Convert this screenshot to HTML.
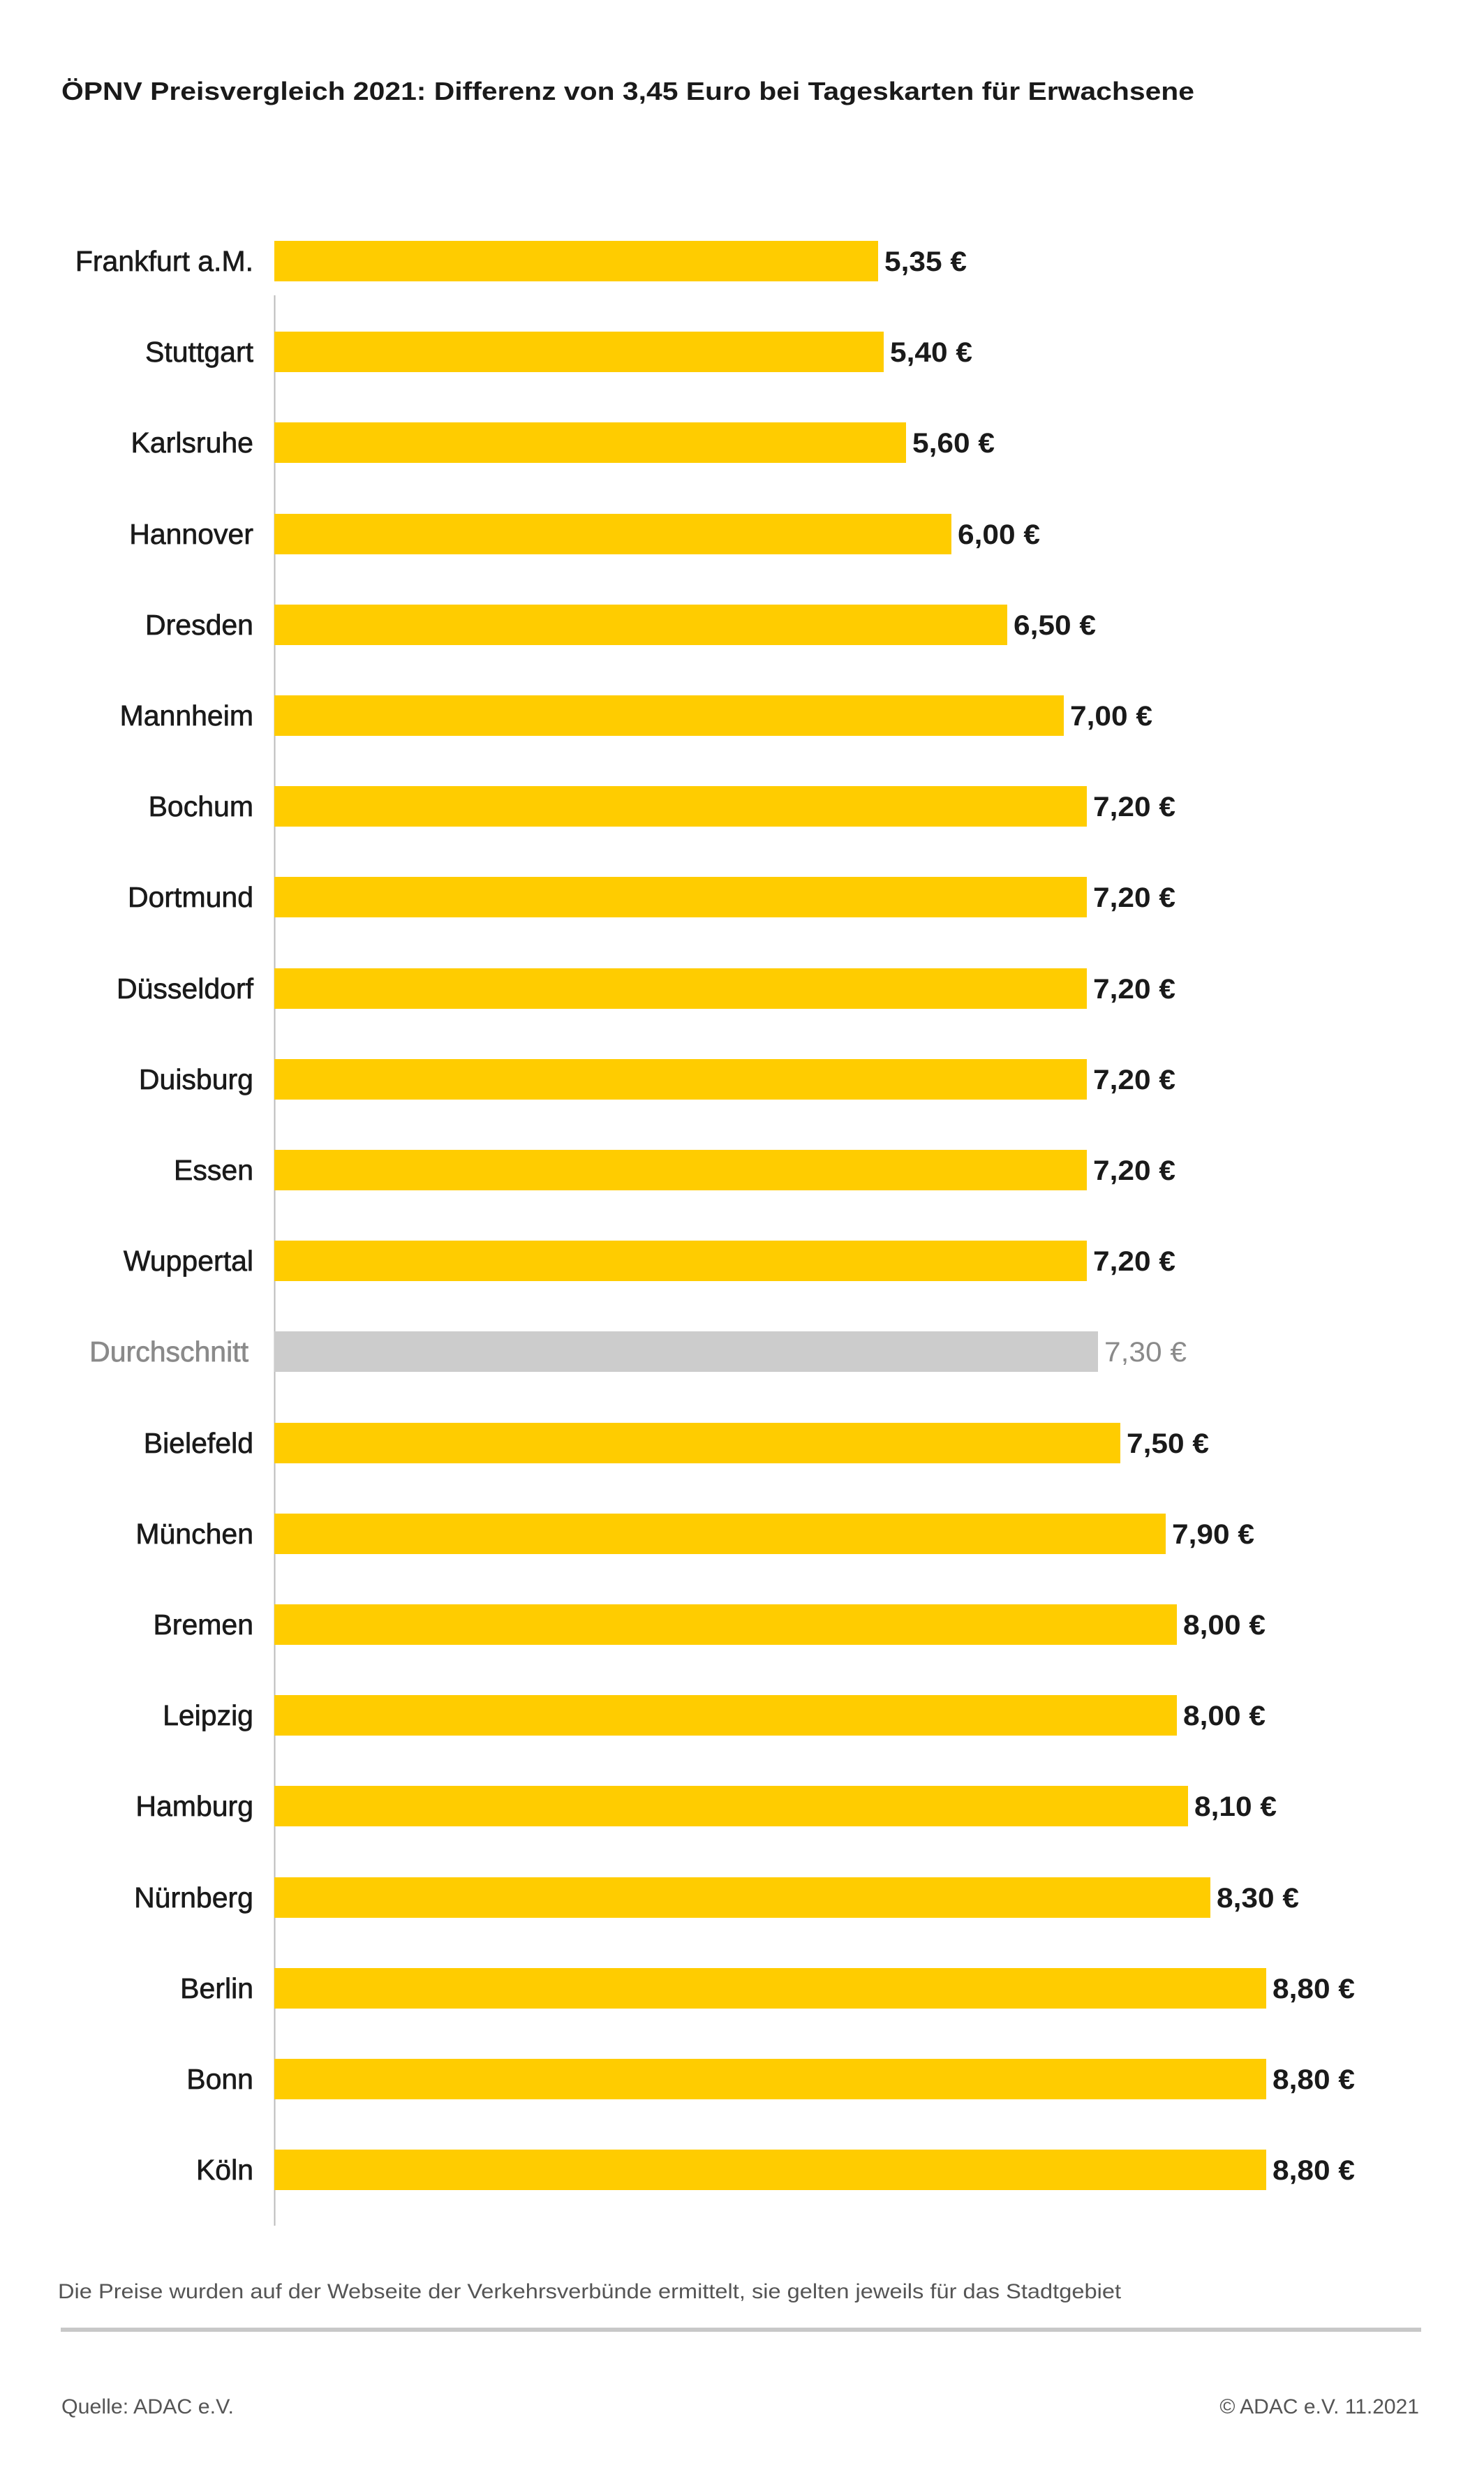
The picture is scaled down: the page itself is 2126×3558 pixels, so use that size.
<!DOCTYPE html>
<html><head><meta charset="utf-8"><style>
html,body{margin:0;padding:0;background:#fff}
svg{display:block}
text{font-family:"Liberation Sans",sans-serif}
.l{font-size:41px;fill:#1a1a1a;text-anchor:end;stroke:#1a1a1a;stroke-width:0.7px}
.v{font-size:40px;font-weight:bold;fill:#1a1a1a}
</style></head><body>
<svg width="2126" height="3558" viewBox="0 0 2126 3558" xmlns="http://www.w3.org/2000/svg">
<text x="88" y="143" font-size="36" font-weight="bold" fill="#1a1a1a" textLength="1623" lengthAdjust="spacingAndGlyphs">ÖPNV Preisvergleich 2021: Differenz von 3,45 Euro bei Tageskarten für Erwachsene</text>
<line x1="393.5" y1="423" x2="393.5" y2="3188" stroke="#bbb" stroke-width="2"/>
<g>
<rect x="393" y="345" width="865" height="58" fill="#FFCC00"/><text class="l" x="363" y="388">Frankfurt a.M.</text><text class="v" x="1267" y="388" textLength="118" lengthAdjust="spacingAndGlyphs">5,35 €</text>
<rect x="393" y="475" width="873" height="58" fill="#FFCC00"/><text class="l" x="363" y="518">Stuttgart</text><text class="v" x="1275" y="518" textLength="118" lengthAdjust="spacingAndGlyphs">5,40 €</text>
<rect x="393" y="605" width="905" height="58" fill="#FFCC00"/><text class="l" x="363" y="648">Karlsruhe</text><text class="v" x="1307" y="648" textLength="118" lengthAdjust="spacingAndGlyphs">5,60 €</text>
<rect x="393" y="736" width="970" height="58" fill="#FFCC00"/><text class="l" x="363" y="779">Hannover</text><text class="v" x="1372" y="779" textLength="118" lengthAdjust="spacingAndGlyphs">6,00 €</text>
<rect x="393" y="866" width="1050" height="58" fill="#FFCC00"/><text class="l" x="363" y="909">Dresden</text><text class="v" x="1452" y="909" textLength="118" lengthAdjust="spacingAndGlyphs">6,50 €</text>
<rect x="393" y="996" width="1131" height="58" fill="#FFCC00"/><text class="l" x="363" y="1039">Mannheim</text><text class="v" x="1533" y="1039" textLength="118" lengthAdjust="spacingAndGlyphs">7,00 €</text>
<rect x="393" y="1126" width="1164" height="58" fill="#FFCC00"/><text class="l" x="363" y="1169">Bochum</text><text class="v" x="1566" y="1169" textLength="118" lengthAdjust="spacingAndGlyphs">7,20 €</text>
<rect x="393" y="1256" width="1164" height="58" fill="#FFCC00"/><text class="l" x="363" y="1299">Dortmund</text><text class="v" x="1566" y="1299" textLength="118" lengthAdjust="spacingAndGlyphs">7,20 €</text>
<rect x="393" y="1387" width="1164" height="58" fill="#FFCC00"/><text class="l" x="363" y="1430">Düsseldorf</text><text class="v" x="1566" y="1430" textLength="118" lengthAdjust="spacingAndGlyphs">7,20 €</text>
<rect x="393" y="1517" width="1164" height="58" fill="#FFCC00"/><text class="l" x="363" y="1560">Duisburg</text><text class="v" x="1566" y="1560" textLength="118" lengthAdjust="spacingAndGlyphs">7,20 €</text>
<rect x="393" y="1647" width="1164" height="58" fill="#FFCC00"/><text class="l" x="363" y="1690">Essen</text><text class="v" x="1566" y="1690" textLength="118" lengthAdjust="spacingAndGlyphs">7,20 €</text>
<rect x="393" y="1777" width="1164" height="58" fill="#FFCC00"/><text class="l" x="363" y="1820">Wuppertal</text><text class="v" x="1566" y="1820" textLength="118" lengthAdjust="spacingAndGlyphs">7,20 €</text>
<rect x="393" y="1907" width="1180" height="58" fill="#CCCCCC"/><text class="l" x="356" y="1950" style="fill:#8a8a8a;stroke:#8a8a8a">Durchschnitt</text><text class="v" x="1582" y="1950" style="fill:#8a8a8a;font-weight:normal" textLength="118" lengthAdjust="spacingAndGlyphs">7,30 €</text>
<rect x="393" y="2038" width="1212" height="58" fill="#FFCC00"/><text class="l" x="363" y="2081">Bielefeld</text><text class="v" x="1614" y="2081" textLength="118" lengthAdjust="spacingAndGlyphs">7,50 €</text>
<rect x="393" y="2168" width="1277" height="58" fill="#FFCC00"/><text class="l" x="363" y="2211">München</text><text class="v" x="1679" y="2211" textLength="118" lengthAdjust="spacingAndGlyphs">7,90 €</text>
<rect x="393" y="2298" width="1293" height="58" fill="#FFCC00"/><text class="l" x="363" y="2341">Bremen</text><text class="v" x="1695" y="2341" textLength="118" lengthAdjust="spacingAndGlyphs">8,00 €</text>
<rect x="393" y="2428" width="1293" height="58" fill="#FFCC00"/><text class="l" x="363" y="2471">Leipzig</text><text class="v" x="1695" y="2471" textLength="118" lengthAdjust="spacingAndGlyphs">8,00 €</text>
<rect x="393" y="2558" width="1309" height="58" fill="#FFCC00"/><text class="l" x="363" y="2601">Hamburg</text><text class="v" x="1711" y="2601" textLength="118" lengthAdjust="spacingAndGlyphs">8,10 €</text>
<rect x="393" y="2689" width="1341" height="58" fill="#FFCC00"/><text class="l" x="363" y="2732">Nürnberg</text><text class="v" x="1743" y="2732" textLength="118" lengthAdjust="spacingAndGlyphs">8,30 €</text>
<rect x="393" y="2819" width="1421" height="58" fill="#FFCC00"/><text class="l" x="363" y="2862">Berlin</text><text class="v" x="1823" y="2862" textLength="118" lengthAdjust="spacingAndGlyphs">8,80 €</text>
<rect x="393" y="2949" width="1421" height="58" fill="#FFCC00"/><text class="l" x="363" y="2992">Bonn</text><text class="v" x="1823" y="2992" textLength="118" lengthAdjust="spacingAndGlyphs">8,80 €</text>
<rect x="393" y="3079" width="1421" height="58" fill="#FFCC00"/><text class="l" x="363" y="3122">Köln</text><text class="v" x="1823" y="3122" textLength="118" lengthAdjust="spacingAndGlyphs">8,80 €</text>
</g>
<text x="83" y="3292" font-size="30" fill="#555" textLength="1523" lengthAdjust="spacingAndGlyphs">Die Preise wurden auf der Webseite der Verkehrsverbünde ermittelt, sie gelten jeweils für das Stadtgebiet</text>
<rect x="87" y="3334" width="1949" height="6" fill="#c8c8c8"/>
<text x="88" y="3457" font-size="30" fill="#555" textLength="247" lengthAdjust="spacingAndGlyphs">Quelle: ADAC e.V.</text>
<text x="2033" y="3457" font-size="30" fill="#555" text-anchor="end">© ADAC e.V. 11.2021</text>
</svg>
</body></html>
